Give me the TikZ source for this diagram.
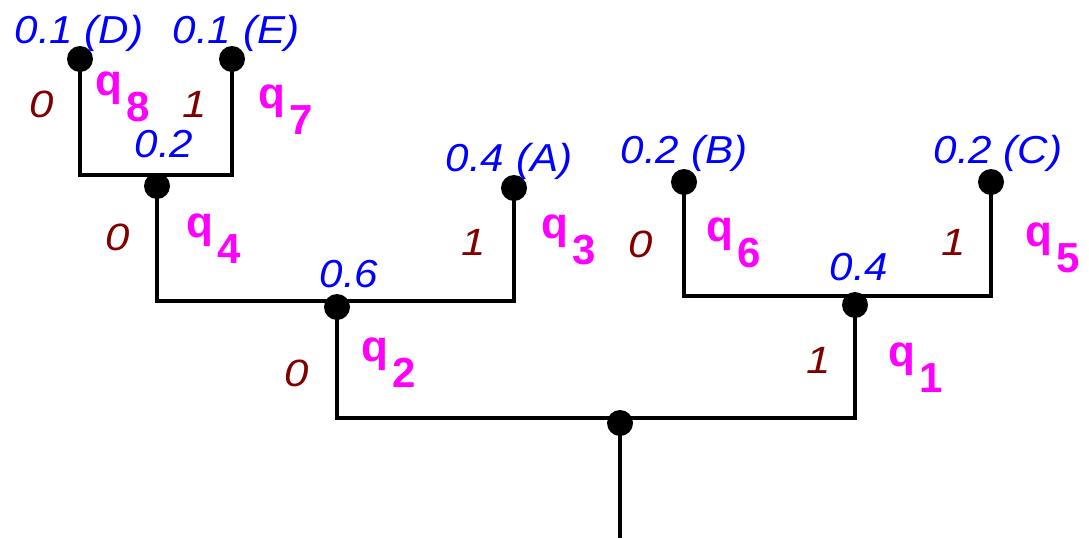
\documentclass[tikz,border=0pt]{standalone}
\usepackage{fontspec}
\setmainfont{Liberation Sans}
\usepackage{graphicx}
\definecolor{probblue}{RGB}{0,0,255}
\definecolor{bitred}{RGB}{128,0,0}
\definecolor{qmag}{RGB}{255,0,255}
\newcommand\stx[1]{\scalebox{1.08}[1]{#1}}
\newcommand\stq[1]{\scalebox{1.15}[1]{#1}}
\newcommand\ql[1]{q\hspace{4pt}\raisebox{-26pt}{\fontsize{42}{42}\selectfont #1}}
\begin{document}
\begin{tikzpicture}[x=1pt,y=-1pt,
  dot/.style={circle,fill=black,inner sep=0pt,minimum size=26pt},
  prob/.style={text=probblue,font=\fontsize{39}{39}\selectfont\itshape,anchor=base,inner sep=0pt},
  bit/.style={text=bitred,font=\fontsize{38}{38}\selectfont\itshape,anchor=base,inner sep=0pt},
  qlab/.style={text=qmag,font=\fontsize{44}{44}\selectfont\bfseries,anchor=base west,inner sep=0pt},
  edge/.style={line width=3.8pt}]
\useasboundingbox (0,0) rectangle (1089,538);
% bar corners
\coordinate (stem) at (620,538);
\coordinate (b1l) at (337,418); \coordinate (b1r) at (855,418);
\coordinate (b2l) at (157,301); \coordinate (b2r) at (514,301);
\coordinate (b3l) at (80,175);  \coordinate (b3r) at (232,175);
\coordinate (b4l) at (684,296); \coordinate (b4r) at (991,296);
% dot positions
\coordinate (proot) at (620,423);
\coordinate (p06) at (337,307);
\coordinate (p02) at (157,186);
\coordinate (pA) at (514,188);
\coordinate (pD) at (80,59);
\coordinate (pE) at (232,59);
\coordinate (p04) at (855,305);
\coordinate (pB) at (684,182);
\coordinate (pC) at (991,182);
% edges
\draw[edge] (proot) -- (stem);
\draw[edge] (p06) -- (b1l) -- (b1r) -- (p04);
\draw[edge] (p02) -- (b2l) -- (b2r) -- (pA);
\draw[edge] (pD) -- (b3l) -- (b3r) -- (pE);
\draw[edge] (pB) -- (b4l) -- (b4r) -- (pC);
% dots
\node[dot] (root) at (proot) {};
\node[dot] (n06) at (p06) {};
\node[dot] (n02) at (p02) {};
\node[dot] (nA) at (pA) {};
\node[dot] (nD) at (pD) {};
\node[dot] (nE) at (pE) {};
\node[dot] (n04) at (p04) {};
\node[dot] (nB) at (pB) {};
\node[dot] (nC) at (pC) {};
% probabilities
\node[prob] (tD) at (79,43) {\stx{0.1 (D)}};
\node[prob] (tE) at (236,43) {\stx{0.1 (E)}};
\node[prob] (t02) at (164,157) {\stx{0.2}};
\node[prob] (tA) at (509,171) {\stx{0.4 (A)}};
\node[prob] (t06) at (349,287) {\stx{0.6}};
\node[prob] (tB) at (684,163) {\stx{0.2 (B)}};
\node[prob] (tC) at (998,163) {\stx{0.2 (C)}};
\node[prob] (t04) at (859,280) {\stx{0.4}};
% bits
\node[bit] (c1) at (42,117) {\stq{0}};
\node[bit] (c2) at (195,117) {\stq{1}};
\node[bit] (c3) at (118,250) {\stq{0}};
\node[bit] (c4) at (474,255) {\stq{1}};
\node[bit] (c5) at (297,386) {\stq{0}};
\node[bit] (c6) at (641,257) {\stq{0}};
\node[bit] (c7) at (954,255) {\stq{1}};
\node[bit] (c8) at (819,373) {\stq{1}};
% q labels
\node[qlab] (q8) at (95,95) {\ql{8}};
\node[qlab] (q7) at (258,108) {\ql{7}};
\node[qlab] (q4) at (186,237) {\ql{4}};
\node[qlab] (q3) at (541,238) {\ql{3}};
\node[qlab] (q2) at (361,361) {\ql{2}};
\node[qlab] (q6) at (706,241) {\ql{6}};
\node[qlab] (q5) at (1025,246) {\ql{5}};
\node[qlab] (q1) at (888,366) {\ql{1}};
\end{tikzpicture}
\end{document}
